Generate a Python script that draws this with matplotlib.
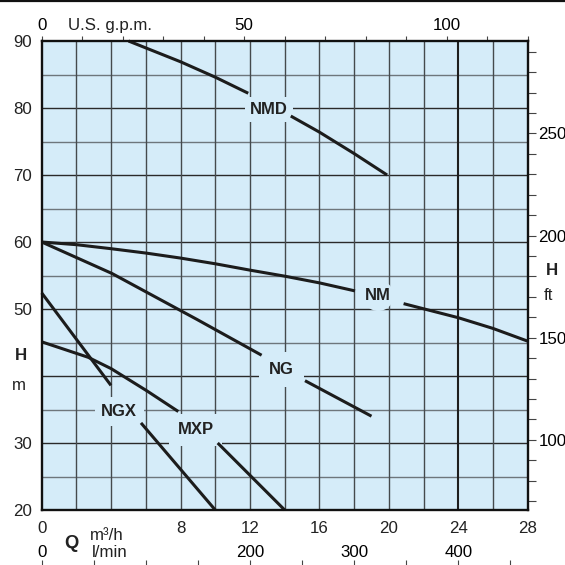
import numpy as np
import matplotlib
matplotlib.use("Agg")
import matplotlib.pyplot as plt
from matplotlib.lines import Line2D

plt.rcParams['font.family'] = ['Liberation Sans', 'DejaVu Sans']

# pump curves, Q in m3/h, H in m (each curve split around its label)
nmd_q1 = [5.0, 8.0, 10.0, 11.9]
nmd_h1 = [90.0, 86.9, 84.6, 82.2]
nmd_q2 = [14.35, 16.0, 18.0, 19.9]
nmd_h2 = [78.8, 76.4, 73.2, 70.0]

nm_q1 = [0.0, 2.0, 4.0, 6.0, 8.0, 10.0, 12.0, 14.0, 16.0, 18.05]
nm_h1 = [60.0, 59.6, 59.0, 58.35, 57.6, 56.75, 55.8, 54.9, 53.9, 52.7]
nm_q2 = [20.85, 24.0, 26.0, 28.0]
nm_h2 = [50.8, 48.7, 47.1, 45.2]

ng_q1 = [0.0, 4.05, 8.94, 12.67]
ng_h1 = [60.0, 55.3, 48.45, 43.1]
ng_q2 = [15.17, 19.0]
ng_h2 = [39.3, 34.0]

ngx_q1 = [0.0, 3.99]
ngx_h1 = [52.4, 38.6]
ngx_q2 = [5.72, 10.0]
ngx_h2 = [33.0, 20.0]

mxp_q1 = [0.0, 2.67, 4.0, 6.05, 7.87]
mxp_h1 = [45.1, 42.8, 41.1, 37.8, 34.7]
mxp_q2 = [10.14, 14.0]
mxp_h2 = [30.0, 20.0]

labels = ['NMD', 'NM', 'NG', 'NGX', 'MXP']
label_q = [13.11, 19.39, 13.82, 4.47, 8.87]
label_h = [79.85, 52.0, 40.9, 34.7, 31.95]

q_ticks = [0, 8, 12, 16, 20, 24, 28]
h_ticks = [20, 30, 50, 60, 70, 80, 90]
gpm_ticks = [0, 50, 100]
lpm_ticks = [0, 200, 300, 400]
ft_ticks = [100, 150, 200, 250]

BG = '#d5ecf9'
INK = '#1c1c1c'
FS = 12.2

fig = plt.figure(figsize=(5.65, 5.65), dpi=100)
ax = fig.add_axes([41.7 / 565, 55 / 565, 486 / 565, 469 / 565])
ax.set_facecolor(BG)
ax.set_xlim(0, 28)
ax.set_ylim(20, 90)

# grid
for h in range(25, 90, 5):
    if h % 10 == 0:
        ax.axhline(h, color='#2a2a2a', lw=1.0, zorder=1)
    else:
        ax.axhline(h, color='#6e767c', lw=1.0, zorder=1)
for q in range(2, 28, 2):
    if q == 24:
        ax.axvline(q, color='#1e1e1e', lw=1.5, zorder=1)
    else:
        ax.axvline(q, color='#454a4d', lw=1.0, zorder=1)

# curves
for qs, hs in [(nmd_q1, nmd_h1), (nmd_q2, nmd_h2), (nm_q1, nm_h1), (nm_q2, nm_h2),
               (ng_q1, ng_h1), (ng_q2, ng_h2), (ngx_q1, ngx_h1), (ngx_q2, ngx_h2),
               (mxp_q1, mxp_h1), (mxp_q2, mxp_h2)]:
    ax.plot(qs, hs, color=INK, lw=2.2, solid_capstyle='butt', zorder=5, clip_on=False)

boxes = ['square,pad=0.3', 'circle,pad=0.15', 'square,pad=0.6', 'square,pad=0.4', 'square,pad=0.5']
for name, q, h, bs in zip(labels, label_q, label_h, boxes):
    ax.text(q, h, name, ha='center', va='center', fontsize=12, fontweight='bold',
            color='#222222', zorder=3,
            bbox=dict(boxstyle=bs, facecolor=BG, edgecolor='none'))

for s in ax.spines.values():
    s.set_linewidth(1.7)
    s.set_color('#111111')
    s.set_zorder(6)

ax.set_xticks(q_ticks)
ax.set_yticks(h_ticks)
ax.tick_params(axis='both', length=0, labelsize=FS, colors='#222222')
ax.tick_params(axis='x', pad=8)
ax.tick_params(axis='y', pad=7.2)

# top axis: US gpm
top = ax.secondary_xaxis('top', functions=(lambda q: q * 120 / 28, lambda g: g * 28 / 120))
top.set_xticks(gpm_ticks)
top.set_xticks(np.arange(0, 121, 10), minor=True)
top.tick_params(which='both', direction='out', length=3.6, width=0.8, color='#444444',
                labelsize=FS, pad=1.9)
top.spines['top'].set_visible(False)

# second bottom row: l/min labels
lpm = ax.secondary_xaxis('bottom', functions=(lambda q: q * 1000 / 60, lambda l: l * 60 / 1000))
lpm.set_xticks(lpm_ticks)
lpm.tick_params(length=0, labelsize=FS, pad=25.5)
lpm.spines['bottom'].set_visible(False)

# l/min tick marks at the bottom edge
lpm_marks = ax.secondary_xaxis(-55 / 469, functions=(lambda q: q * 1000 / 60, lambda l: l * 60 / 1000))
lpm_marks.set_xticks(np.arange(0, 451, 50))
lpm_marks.tick_params(direction='in', length=3.4, width=0.8, color='#444444', labelbottom=False)
lpm_marks.spines['bottom'].set_visible(False)

# right axis: feet
ft = ax.secondary_yaxis('right', functions=(lambda m: m * 3.2808, lambda f: f / 3.2808))
ft.set_yticks(ft_ticks)
ft.set_yticks(np.arange(70, 300, 10), minor=True)
ft.tick_params(which='both', direction='out', length=5.8, width=0.8, color='#444444',
               labelsize=FS, pad=1.9)
ft.spines['right'].set_visible(False)

# axis captions
fig.text(68.3 / 565, 1 - 29.8 / 565, 'U.S. g.p.m.', fontsize=FS, color='#222222', va='baseline')
fig.text(20.7 / 565, 1 - 355.7 / 565, 'H', fontsize=FS, fontweight='bold', color='#222222',
         ha='center', va='center')
fig.text(19.3 / 565, 1 - 385 / 565, 'm', fontsize=FS, color='#222222', ha='center', va='center')
fig.text(551.7 / 565, 1 - 270 / 565, 'H', fontsize=FS, fontweight='bold', color='#222222',
         ha='center', va='center')
fig.text(548 / 565, 1 - 296 / 565, 'ft', fontsize=FS, color='#222222', ha='center', va='center')
fig.text(71.7 / 565, 1 - 543 / 565, 'Q', fontsize=FS + 1, fontweight='bold', color='#222222',
         ha='center', va='center')
fig.text(90 / 565, 1 - 540.5 / 565, 'm³/h', fontsize=FS, color='#222222', va='baseline')
fig.text(91.7 / 565, 1 - 556.7 / 565, 'l/min', fontsize=FS, color='#222222', va='baseline')

fig.add_artist(Line2D([0, 1], [0.999, 0.999], transform=fig.transFigure, color='#111111', lw=1.6))

fig.savefig('out.png', dpi=100)
